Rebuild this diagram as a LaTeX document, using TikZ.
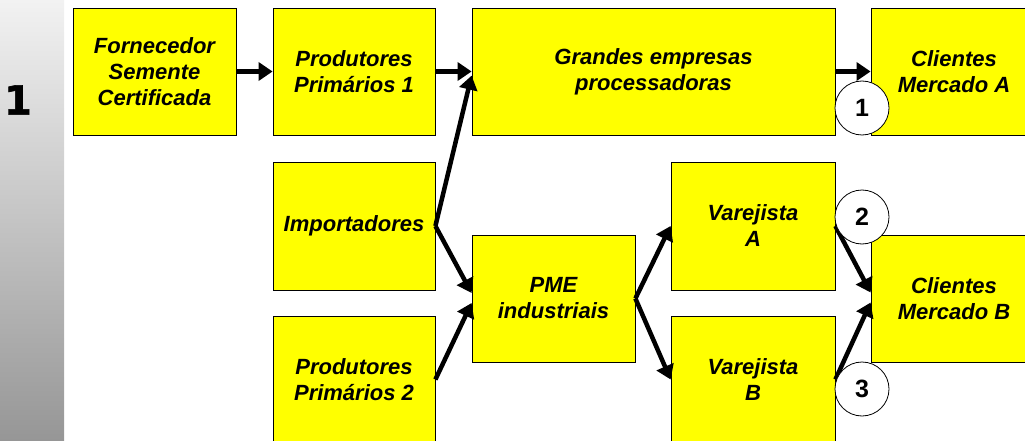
\documentclass[tikz,border=0pt]{standalone}
\usepackage{fontspec}
\setmainfont{Liberation Sans}
\newfontfamily\bignumfont[FakeBold=1.6]{DejaVu Sans}
\usetikzlibrary{arrows.meta}
\definecolor{boxyellow}{HTML}{FFFF00}
\definecolor{bartop}{HTML}{F2F2F2}
\definecolor{barmid}{HTML}{C6C6C6}
\definecolor{barbot}{HTML}{969696}
\begin{document}
\begin{tikzpicture}[x=1pt,y=-1pt,
  box/.style={draw=black, line width=0.8pt, fill=boxyellow, align=center,
    minimum height=127pt, inner sep=0pt,
    font=\fontsize{22}{26}\selectfont\bfseries\itshape},
  flow/.style={line width=4.5pt, -{Triangle[length=14pt,width=18pt]}},
  badge/.style={circle, draw=black, line width=0.8pt, fill=white, minimum size=54pt,
    inner sep=0pt, font=\fontsize{25}{28}\selectfont\bfseries}
]
\useasboundingbox (0,0) rectangle (1025,441);
\clip (0,0) rectangle (1025,441);
\shade[top color=bartop, middle color=barmid, bottom color=barbot] (0,0) rectangle (64,441);
\node[font=\bignumfont\fontsize{40}{42}\selectfont\bfseries] (step1) at (18,100) {1};

\node[box, minimum width=163pt] (forn) at (154.5,71.5) {Fornecedor\\Semente\\Certificada};
\node[box, minimum width=162pt] (prod1) at (354,71.5) {Produtores\\Primários 1};
\node[box, minimum width=363pt] (grandes) at (653.5,71.5) {Grandes empresas\\processadoras};
\node[box, minimum width=166pt] (cliA) at (954,71.5) {Clientes\\Mercado A};
\node[box, minimum width=162pt, minimum height=128pt] (impo) at (354,226) {Importadores};
\node[box, minimum width=162pt] (prod2) at (354,379.5) {Produtores\\Primários 2};
\node[box, minimum width=163pt] (pme) at (553.5,298.5) {PME\\industriais};
\node[box, minimum width=164pt, minimum height=128pt] (varA) at (753,226) {Varejista\\A};
\node[box, minimum width=164pt] (varB) at (753,379.5) {Varejista\\B};
\node[box, minimum width=166pt] (cliB) at (954,298.5) {Clientes\\Mercado B};

\draw[flow] (forn.east) -- (prod1.west);
\draw[flow] (prod1.east) -- (grandes.west);
\draw[flow] (impo.east) -- ([yshift=-68pt]grandes.north west);
\draw[flow] (impo.east) -- ([yshift=5.5pt]pme.west);
\draw[flow] (prod2.east) -- ([yshift=-4.5pt]pme.west);
\draw[flow] (pme.east) -- (varA.west);
\draw[flow] (pme.east) -- (varB.west);
\draw[flow] (varA.east) -- ([yshift=6pt]cliB.west);
\draw[flow] (varB.east) -- ([yshift=-4pt]cliB.west);
\draw[flow] (grandes.east) -- (cliA.west);

\node[badge] (b1) at (862,108) {1};
\node[badge] (b2) at (862,217) {2};
\node[badge] (b3) at (862,389) {3};
\end{tikzpicture}
\end{document}
